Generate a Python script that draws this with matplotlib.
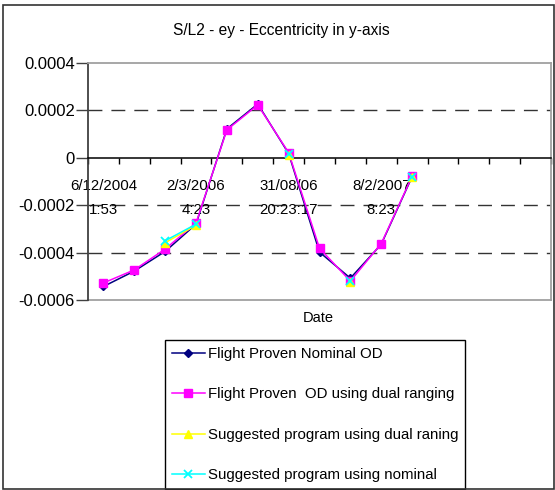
import matplotlib
matplotlib.use("Agg")
import matplotlib.pyplot as plt
import numpy as np
from matplotlib.patches import Rectangle

plt.rcParams['font.family'] = ['Liberation Sans', 'DejaVu Sans']

nan = np.nan

# eccentricity ey per orbit determination run
nominal_od = [-5.43e-4, -4.78e-4, -3.95e-4, -2.80e-4, 1.22e-4, 2.27e-4,
              1.8e-5, -3.98e-4, -5.08e-4, -3.65e-4, -8.0e-5]
dual_od = [-5.28e-4, -4.73e-4, -3.85e-4, -2.75e-4, 1.18e-4, 2.23e-4,
           2.2e-5, -3.82e-4, -5.20e-4, -3.62e-4, -7.8e-5]
suggested_dual = [nan, nan, -3.58e-4, -2.85e-4, nan, nan,
                  1.2e-5, nan, -5.25e-4, nan, -8.2e-5]
suggested_nominal = [nan, nan, -3.50e-4, -2.80e-4, nan, nan,
                     1.5e-5, nan, -5.20e-4, nan, -8.0e-5]

date_positions = [0, 3, 6, 9]
date_labels = ["6/12/2004\n1:53", "2/3/2006\n4:23",
               "31/08/06\n20:23:17", "8/2/2007\n8:23"]

y_ticks = [0.0004, 0.0002, 0, -0.0002, -0.0004, -0.0006]
y_labels = ["0.0004", "0.0002", "0", "-0.0002", "-0.0004", "-0.0006"]

n_slots = 15
W, H = 555, 490

fig = plt.figure(figsize=(W / 100, H / 100), dpi=100)
ax = fig.add_axes([88 / W, 1 - 300 / H, 463 / W, 237 / H])

x = np.arange(len(nominal_od))
dash = (0, (10, 6.5))

for yv in [0.0002, -0.0002, -0.0004]:
    ax.axhline(yv, color='#333333', lw=1, ls=dash, zorder=1)

ax.plot(x, nominal_od, color='#000080', marker='D', ms=4.5, lw=1.1,
        label="Flight Proven Nominal OD", zorder=3)
ax.plot(x, dual_od, color='#ff00ff', marker='s', ms=6, lw=1.1,
        label="Flight Proven  OD using dual ranging", zorder=4)
ax.plot(x, suggested_dual, color='#ffff00', marker='^', ms=6, lw=1.1,
        label="Suggested program using dual raning", zorder=5)
ax.plot(x, suggested_nominal, color='#00ffff', marker='x', ms=6, lw=1.1,
        mew=1.3, label="Suggested program using nominal", zorder=6)

ax.set_xlim(-0.5, n_slots - 0.5)
ax.set_ylim(-0.0006, 0.0004)

# category axis crossing at zero
ax.spines['bottom'].set_position(('data', 0))
ax.spines['bottom'].set_color('black')
ax.spines['bottom'].set_linewidth(1.1)
ax.spines['left'].set_color('#404040')
ax.spines['left'].set_linewidth(1.3)
for side in ['top', 'right']:
    ax.spines[side].set_color('#a0a0a0')
    ax.spines[side].set_linewidth(1.3)
ax.axhline(-0.0006, color='#a0a0a0', lw=1.3, clip_on=False, zorder=0)

ax.set_xticks(np.arange(n_slots + 1) - 0.5)
ax.set_xticklabels([])
ax.tick_params(axis='x', which='major', direction='out', length=4,
               width=1, color='black')
ax.set_xticks(date_positions, minor=True)
ax.set_xticklabels(date_labels, minor=True, fontsize=10.8, linespacing=1.9)
ax.tick_params(axis='x', which='minor', length=0, pad=15)

ax.set_yticks(y_ticks)
ax.set_yticklabels(y_labels, fontsize=12)
ax.tick_params(axis='y', direction='out', length=8.5, width=1,
               color='#404040', pad=1)

fig.text(318 / W, 1 - 318 / H, "Date", ha='center', va='center',
         fontsize=10.5)
fig.text(281 / W, 1 - 30 / H, "S/L2 - ey - Eccentricity in y-axis",
         ha='center', va='center', fontsize=11.2)

leg = fig.legend(loc='upper left', bbox_to_anchor=(165 / W, 1 - 340 / H),
                 fontsize=10.8, frameon=True, fancybox=False,
                 edgecolor='black', framealpha=1, handlelength=2.2,
                 handletextpad=0.2, labelspacing=1.77, borderpad=0.45,
                 borderaxespad=0)
leg.get_frame().set_linewidth(1)

# outer chart frame
frame = Rectangle((3 / W, 1 / H), 551 / W, 484 / H, transform=fig.transFigure,
                  fill=False, edgecolor='#333333', lw=1.2, zorder=10)
fig.patches.append(frame)

fig.savefig("out.png", dpi=100)
